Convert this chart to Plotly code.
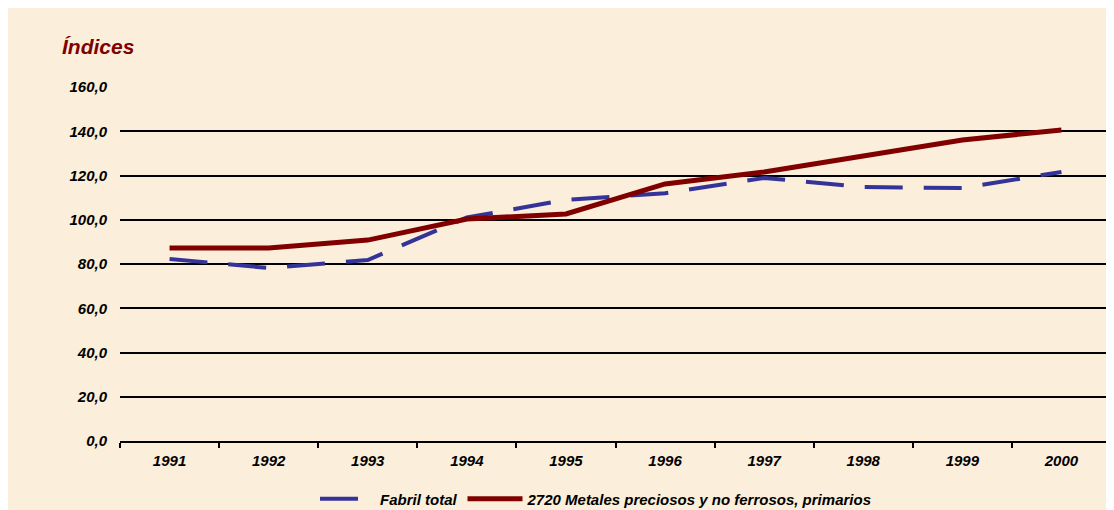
import plotly.graph_objects as go

years = ["1991", "1992", "1993", "1994", "1995", "1996", "1997", "1998", "1999", "2000"]
fabril_total = [82.3, 78.2, 81.8, 101.0, 109.0, 112.0, 118.9, 114.8, 114.3, 121.6]
metales = [87.2, 87.2, 90.8, 100.3, 102.6, 116.2, 121.6, 128.8, 136.0, 140.6]
y_ticks = [0, 20, 40, 60, 80, 100, 120, 140, 160]

font_family = "Liberation Sans, Arial, sans-serif"
W, H = 1114, 510
L, R, T, B = 112, 11, 79, 77
PW, PH = W - L - R, H - T - B

fig = go.Figure()
fig.add_trace(go.Scatter(
    x=years, y=fabril_total, mode="lines", name="Fabril total",
    line=dict(color="#333399", width=4, dash="38px,21px"),
))
fig.add_trace(go.Scatter(
    x=years, y=metales, mode="lines", name="2720 Metales preciosos y no ferrosos, primarios",
    line=dict(color="#800000", width=5),
))

fig.update_layout(
    width=W, height=H,
    margin=dict(l=L, r=R, t=T, b=B, autoexpand=False),
    paper_bgcolor="#FBEEDA",
    plot_bgcolor="rgba(0,0,0,0)",
    separators=",.",
    font=dict(family=font_family, size=15, color="black"),
    showlegend=True,
    legend=dict(
        orientation="h", xref="paper", x=(588 - L) / PW, xanchor="center",
        yref="container", y=(H - 491) / H, yanchor="middle",
        itemwidth=55,
        font=dict(family=font_family, size=15, color="black", style="italic", weight="bold"),
        bgcolor="rgba(0,0,0,0)", traceorder="normal",
    ),
    annotations=[dict(
        text="Índices", xref="paper", yref="paper",
        x=-60 / PW, y=1 + 41 / PH, xanchor="left", yanchor="middle", showarrow=False,
        font=dict(family=font_family, size=21, color="#800000", style="italic", weight="bold"),
    )],
)

fig.update_xaxes(
    type="category", showgrid=False, showline=True, linecolor="black", linewidth=2,
    ticks="outside", tickson="boundaries", ticklen=5, tickwidth=1.5, tickcolor="black",
    ticklabelstandoff=5,
    tickfont=dict(family=font_family, size=15, style="italic", weight="bold"),
    range=[-0.5, 9.5], fixedrange=True, automargin=False,
)
fig.update_yaxes(
    range=[0, 160], tickvals=y_ticks, tickformat=".1f",
    showgrid=True, gridcolor="black", gridwidth=2, zeroline=False, showline=False,
    ticks="", ticklabelstandoff=12, automargin=False,
    tickfont=dict(family=font_family, size=15, style="italic", weight="bold"),
)

fig.write_html("out.html")
